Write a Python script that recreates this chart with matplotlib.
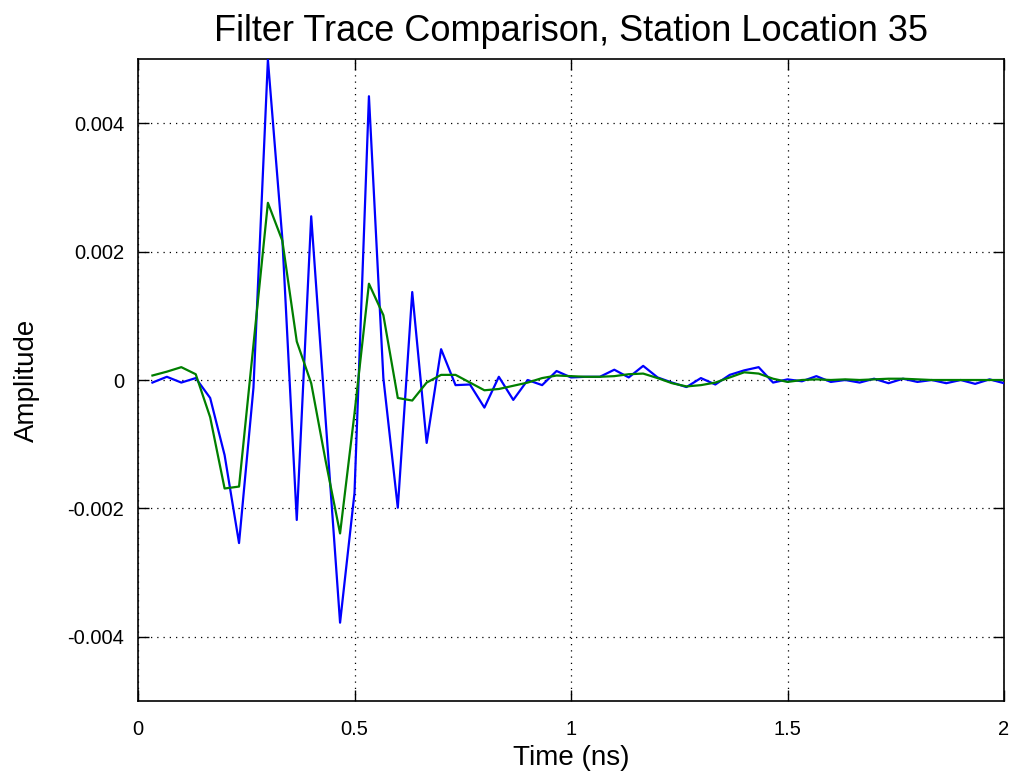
import matplotlib
matplotlib.use("Agg")
import matplotlib.pyplot as plt
from matplotlib.ticker import FuncFormatter

plt.rcParams['font.family'] = ['Liberation Sans', 'DejaVu Sans']

dt = 1.0 / 30.0
time_ns = [dt * k for k in range(1, 61)]

blue_trace = [
    -0.00004, 0.00005, -0.00004, 0.00003, -0.00028, -0.00117, -0.00254, -0.00012,
    0.00499, 0.00220, -0.00218, 0.00255, -0.00062, -0.00378, -0.00176, 0.00442,
    0.00003, -0.00199, 0.00137, -0.00098, 0.00048, -0.00008, -0.00007, -0.00043,
    0.00005, -0.00031, 0.00000, -0.00008, 0.00014, 0.00004, 0.00005, 0.00005,
    0.00016, 0.00004, 0.00022, 0.00004, -0.00004, -0.00011, 0.00003, -0.00007,
    0.00008, 0.00015, 0.00020, -0.00004, 0.00001, -0.00002, 0.00006, -0.00003,
    0.00000, -0.00004, 0.00002, -0.00005, 0.00002, -0.00003, 0.00000, -0.00005,
    0.00000, -0.00006, 0.00001, -0.00005,
]

green_trace = [
    0.00007, 0.00013, 0.00020, 0.00009, -0.00058, -0.00169, -0.00166, 0.00055,
    0.00276, 0.00217, 0.00060, -0.00005, -0.00126, -0.00239, -0.00052, 0.00150,
    0.00101, -0.00028, -0.00032, -0.00004, 0.00008, 0.00008, -0.00004, -0.00016,
    -0.00014, -0.00009, -0.00004, 0.00003, 0.00007, 0.00006, 0.00005, 0.00005,
    0.00006, 0.00009, 0.00010, 0.00003, -0.00005, -0.00010, -0.00008, -0.00004,
    0.00004, 0.00012, 0.00010, 0.00002, -0.00003, 0.00000, 0.00001, 0.00000,
    0.00001, 0.00000, 0.00001, 0.00002, 0.00002, 0.00001, 0.00000, 0.00000,
    0.00000, 0.00000, 0.00000, 0.00000,
]

x_ticks = [0, 0.5, 1, 1.5, 2]
y_ticks = [-0.004, -0.002, 0, 0.002, 0.004]

fig = plt.figure(figsize=(10.13, 7.76), dpi=100)
ax = fig.add_axes([138/1013, 1 - 701/776, (1004-138)/1013, (701-59)/776])

ax.plot(time_ns, blue_trace, color='#0000ff', lw=1.6, zorder=3)
ax.plot(time_ns, green_trace, color='#007f00', lw=1.6, zorder=4)

ax.set_xlim(0, 2)
ax.set_ylim(-0.005, 0.005)
ax.set_xticks(x_ticks)
ax.set_yticks(y_ticks)

def fmt(v, pos):
    if abs(v) < 1e-12:
        return "0"
    s = ("%.3f" % v).rstrip('0').rstrip('.')
    return s.replace('\u2212', '-')

ax.xaxis.set_major_formatter(FuncFormatter(fmt))
ax.yaxis.set_major_formatter(FuncFormatter(fmt))

ax.tick_params(direction='in', length=8, width=1, top=True, right=True,
               labelsize=14.5)
ax.tick_params(axis='x', pad=14)
ax.tick_params(axis='y', pad=10)
ax.grid(True, color='black', linestyle=(0, (1, 4)), lw=0.9)
for sp in ax.spines.values():
    sp.set_linewidth(1.2)

ax.set_xlabel("Time (ns)", fontsize=20, labelpad=4)
ax.set_ylabel("Amplitude", fontsize=20, labelpad=20)
ax.set_title("Filter Trace Comparison, Station Location 35", fontsize=26, pad=13)

fig.savefig("out.png", dpi=100)
